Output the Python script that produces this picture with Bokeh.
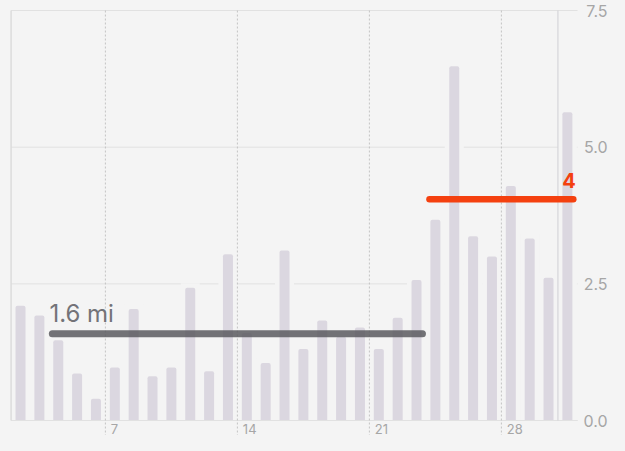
from bokeh.plotting import figure
from bokeh.models import Range1d
from bokeh.core.properties import value
from bokeh.embed import file_html
from bokeh.resources import INLINE
import numpy as np

# ---------------- data ----------------
days = list(range(2, 32))
miles = [2.10, 1.92, 1.47, 0.86, 0.40, 0.97, 2.04, 0.81, 0.97, 2.43,
         0.90, 3.04, 1.60, 1.05, 3.11, 1.31, 1.83, 1.53, 1.70, 1.31,
         1.88, 2.57, 3.67, 6.48, 3.37, 3.00, 4.29, 3.33, 2.61, 5.64]
y_ticks = [0.0, 2.5, 5.0, 7.5]
y_tick_labels = ["0.0", "2.5", "5.0", "7.5"]
x_ticks = [7, 14, 21, 28]
x_tick_labels = ["7", "14", "21", "28"]
avg1_days = (4, 23)      # first average period (inclusive)
avg2_days = (24, 31)     # second average period (inclusive)
avg1_label = "1.6 mi"
avg2_label = "4"
marker_day = 31

# ---------------- layout constants ----------------
W, H = 609, 435
PX_DAY = 18.857          # pixels per day
BASE_Y = 420             # pixel row of the zero line
TOP_Y = 10               # pixel row of the top gridline
PX_MI = (BASE_Y - TOP_Y) / 7.5
BG = "#f4f4f4"
x_start = 1.5 - 10.6 / PX_DAY
x_end = x_start + W / PX_DAY
y_end = BASE_Y / PX_MI
y_start = -(H - BASE_Y) / PX_MI

p = figure(width=W, height=H, x_range=Range1d(x_start, x_end), y_range=Range1d(y_start, y_end),
           output_backend="svg", toolbar_location=None,
           x_axis_location=None, y_axis_location=None, min_border=0,
           background_fill_color=BG, border_fill_color=BG, outline_line_color=None)
p.grid.visible = False

first_day = days[0] - 0.5
last_day = days[-1] + 0.5
grid_right = last_day + 3.5 / PX_DAY * 0 + 0.05 + 0.0
grid_right = x_start + 577 / PX_DAY

# horizontal gridlines
p.segment(x0=[first_day] * len(y_ticks), x1=[grid_right] * len(y_ticks), y0=y_ticks, y1=y_ticks,
          line_color="#e1e1e1", line_width=1)

# halo behind bars (hides gridlines near bars)
m = np.array(miles)
p.vbar(x=days, top=m + 4.5 / PX_MI, bottom=0, width=(10 + 9) / PX_DAY,
       fill_color=BG, line_color=None)

# bars
p.vbar(x=days, top=miles, bottom=0, width=10 / PX_DAY, fill_color="#dbd7e0",
       line_color=None, border_radius=(2, 2, 0, 0))

# baseline
p.segment(x0=[first_day], x1=[grid_right], y0=[y_ticks[0]], y1=[y_ticks[0]],
          line_color="#e1e1e1", line_width=1)

# dotted week lines
xs = [t - 0.5 for t in x_ticks]
p.segment(x0=xs, x1=xs, y0=[y_ticks[-1]] * len(xs), y1=[y_start] * len(xs),
          line_color="#c3c3c3", line_width=1, line_dash="2 2")

# left frame line and marker line
p.segment(x0=[first_day], x1=[first_day], y0=[y_ticks[0]], y1=[y_ticks[-1]],
          line_color="#dcdcdc", line_width=1.5)
p.segment(x0=[marker_day - 0.5], x1=[marker_day - 0.5], y0=[y_ticks[0]], y1=[y_ticks[-1]],
          line_color="#cfcfd4", line_width=1)

# average lines
d = np.array(days)
a1 = float(m[(d >= avg1_days[0]) & (d <= avg1_days[1])].mean())
a2 = float(m[(d >= avg2_days[0]) & (d <= avg2_days[1])].mean())
inset = 3.5 / PX_DAY
p.segment(x0=[avg1_days[0] - 0.5 + inset], x1=[avg1_days[1] + 0.5 - inset], y0=[a1], y1=[a1],
          line_color="#5a5a5f", line_alpha=0.85, line_width=7, line_cap="round")
p.segment(x0=[avg2_days[0] - 0.5 + inset], x1=[avg2_days[1] + 0.5 - inset], y0=[a2], y1=[a2],
          line_color="#f4400f", line_width=6.5, line_cap="round")

p.text(x=[avg1_days[0] - 0.5 + 0.03], y=[a1 + 20 / PX_MI], text=[avg1_label],
       text_font=value("Inter"), text_font_size="24px", text_color="#737378",
       text_align="left", text_baseline="middle")
p.text(x=[avg2_days[1] + 0.5 - 0.05], y=[a2 + 19 / PX_MI], text=[avg2_label],
       text_font=value("Inter"), text_font_size="20px", text_font_style="bold",
       text_color="#f4400f", text_align="right", text_baseline="middle")

# right tick labels (kept inside the figure)
p.text(x=[x_start + 607 / PX_DAY] * len(y_ticks), y=y_ticks, text=y_tick_labels,
       text_font=value("Inter"), text_font_size="16px", text_color="#a6a6a6",
       text_align="right", text_baseline="middle")

# bottom tick labels
p.text(x=[t - 0.5 + 0.29 for t in x_ticks], y=[-8 / PX_MI] * len(x_ticks), text=x_tick_labels,
       text_font=value("Inter"), text_font_size="13px", text_color="#a6a6a6",
       text_align="left", text_baseline="middle")

html = file_html(p, INLINE)
html = html.replace("</head>", "<style>body{background:#f4f4f4;}</style></head>", 1)
open("out.html", "w").write(html)
